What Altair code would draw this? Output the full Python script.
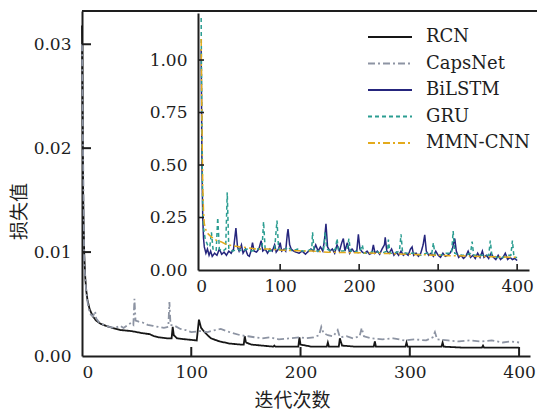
import altair as alt
import pandas as pd

MODELS = ["RCN", "CapsNet", "BiLSTM", "GRU", "MMN-CNN"]
COLORS = ["#161616", "#8d94a3", "#25257d", "#2b9d91", "#e3aa1c"]
DASHES = [[1, 0], [7, 3, 2, 3], [1, 0], [4, 3], [7, 3, 2, 3]]

# ---- main panel: RCN and CapsNet training loss ----
rcn_epoch = [0, 1, 2, 3, 4, 5, 7, 10, 13, 17, 22, 28, 35, 45, 55, 62, 66, 70, 78, 82,
             83, 84, 87, 95, 105, 107, 109, 113, 118, 126, 135, 145, 148, 149, 150, 155,
             165, 175, 176, 177, 190, 198, 199, 200, 210, 224, 225, 226, 235, 236, 238,
             250, 267, 268, 269, 285, 296, 297, 298, 315, 329, 330, 331, 350, 366, 367,
             368, 385, 400]
rcn_loss = [0.0318, 0.016, 0.010, 0.0075, 0.0062, 0.0054, 0.0045, 0.0038, 0.0034, 0.0031,
            0.0029, 0.0027, 0.0025, 0.0024, 0.0022, 0.0021, 0.0019, 0.0018, 0.0017, 0.0017,
            0.0028, 0.0020, 0.0017, 0.0016, 0.0015, 0.0035, 0.0027, 0.0022, 0.0017, 0.0014,
            0.0012, 0.0011, 0.0011, 0.0019, 0.0013, 0.0011, 0.0010, 0.0009, 0.0010, 0.0009,
            0.0009, 0.0009, 0.0018, 0.0011, 0.0009, 0.0009, 0.0013, 0.0009, 0.0009, 0.0017,
            0.0010, 0.0009, 0.0009, 0.0014, 0.0009, 0.0009, 0.0009, 0.0013, 0.0009, 0.0009,
            0.0009, 0.0013, 0.0009, 0.0008, 0.0008, 0.0010, 0.0008, 0.0008, 0.0008]

caps_epoch = [0, 2, 4, 6, 8, 10, 12, 13, 16, 20, 25, 30, 35, 38, 42, 45, 47, 48, 49, 52,
              56, 60, 65, 70, 75, 79, 80, 81, 85, 90, 95, 100, 108, 115, 122, 127, 132,
              138, 145, 152, 158, 165, 172, 180, 190, 200, 205, 212, 217, 219, 221, 225,
              230, 234, 236, 242, 248, 254, 256, 258, 265, 275, 285, 295, 305, 315, 321,
              323, 325, 335, 345, 355, 365, 375, 385, 393, 400]
caps_loss = [0.030, 0.009, 0.006, 0.0046, 0.0040, 0.0038, 0.0043, 0.0036, 0.0032, 0.0030,
             0.0028, 0.0027, 0.0029, 0.0027, 0.0030, 0.0032, 0.0030, 0.0055, 0.0034, 0.0033,
             0.0032, 0.0030, 0.0029, 0.0028, 0.0027, 0.0028, 0.0052, 0.0030, 0.0029, 0.0026,
             0.0025, 0.0023, 0.0024, 0.0023, 0.0025, 0.0026, 0.0024, 0.0022, 0.0020, 0.0019,
             0.0018, 0.0017, 0.0018, 0.0016, 0.0017, 0.0018, 0.0017, 0.0018, 0.0020, 0.0028,
             0.0022, 0.0020, 0.0019, 0.0025, 0.0018, 0.0019, 0.0017, 0.0019, 0.0027, 0.0019,
             0.0017, 0.0016, 0.0017, 0.0015, 0.0016, 0.0015, 0.0018, 0.0023, 0.0016, 0.0015,
             0.0014, 0.0015, 0.0014, 0.0015, 0.0013, 0.0014, 0.0013]

# ---- inset panel: baseline models ----
gru_epoch = [0, 1, 2, 3, 5, 8, 11, 13, 15, 19, 21, 23, 27, 31, 33, 35, 40, 46, 52, 58, 64,
             70, 77, 79, 81, 87, 93, 96, 98, 104, 110, 115, 122, 128, 134, 140, 141, 143,
             150, 155, 157, 159, 165, 170, 172, 174, 180, 185, 187, 189, 195, 200, 204, 206,
             212, 220, 228, 236, 237, 239, 245, 251, 253, 255, 262, 270, 278, 285, 292, 294,
             296, 303, 310, 317, 319, 321, 328, 335, 341, 343, 345, 352, 358, 364, 366, 368,
             375, 382, 388, 392, 394, 396, 400]
gru_loss = [1.20, 0.60, 0.30, 0.20, 0.15, 0.12, 0.11, 0.18, 0.10, 0.09, 0.25, 0.10, 0.09,
            0.10, 0.37, 0.10, 0.09, 0.10, 0.09, 0.10, 0.09, 0.10, 0.10, 0.23, 0.10, 0.09,
            0.10, 0.235, 0.10, 0.09, 0.11, 0.09, 0.10, 0.09, 0.09, 0.10, 0.18, 0.09, 0.09,
            0.10, 0.18, 0.10, 0.09, 0.10, 0.15, 0.09, 0.09, 0.10, 0.15, 0.09, 0.09, 0.08,
            0.12, 0.08, 0.08, 0.09, 0.08, 0.09, 0.145, 0.08, 0.08, 0.09, 0.17, 0.08, 0.08,
            0.08, 0.07, 0.08, 0.08, 0.13, 0.07, 0.07, 0.08, 0.08, 0.185, 0.08, 0.07, 0.07,
            0.08, 0.135, 0.07, 0.07, 0.07, 0.07, 0.14, 0.07, 0.06, 0.06, 0.07, 0.07, 0.14,
            0.06, 0.06]

bilstm_epoch = [0, 1, 2, 3, 4, 6, 8, 10, 12, 14, 17, 20, 23, 26, 29, 32, 35, 38, 41, 44,
                46, 48, 51, 53, 56, 59, 61, 63, 65, 67, 70, 73, 76, 78, 81, 84, 87, 90, 93,
                95, 98, 100, 102, 105, 107, 109, 110, 112, 114, 117, 120, 124, 128, 132, 136,
                139, 142, 145, 148, 151, 154, 156, 158, 160, 163, 166, 169, 172, 175, 178,
                180, 182, 185, 188, 191, 194, 197, 199, 201, 204, 207, 210, 213, 216, 218,
                220, 223, 226, 229, 232, 233, 235, 238, 241, 244, 247, 250, 253, 256, 259,
                262, 265, 267, 269, 272, 275, 278, 281, 283, 285, 288, 291, 294, 297, 300,
                303, 306, 309, 312, 315, 318, 321, 323, 326, 329, 332, 335, 338, 341, 344,
                347, 350, 353, 356, 358, 361, 364, 367, 370, 373, 376, 379, 382, 385, 388,
                391, 394, 397, 400]
bilstm_loss = [1.05, 0.50, 0.25, 0.15, 0.11, 0.08, 0.10, 0.07, 0.09, 0.065, 0.08, 0.07,
               0.10, 0.075, 0.085, 0.07, 0.09, 0.08, 0.10, 0.20, 0.11, 0.09, 0.12, 0.08,
               0.10, 0.07, 0.065, 0.09, 0.13, 0.09, 0.085, 0.10, 0.14, 0.09, 0.10, 0.08,
               0.10, 0.09, 0.12, 0.085, 0.10, 0.13, 0.09, 0.10, 0.09, 0.17, 0.195, 0.12,
               0.10, 0.09, 0.085, 0.08, 0.09, 0.075, 0.09, 0.10, 0.09, 0.12, 0.09, 0.11,
               0.09, 0.14, 0.22, 0.11, 0.09, 0.10, 0.08, 0.12, 0.09, 0.13, 0.15, 0.09,
               0.13, 0.08, 0.10, 0.085, 0.09, 0.17, 0.10, 0.085, 0.08, 0.09, 0.075, 0.08,
               0.12, 0.08, 0.09, 0.075, 0.10, 0.12, 0.155, 0.09, 0.08, 0.10, 0.07, 0.085,
               0.07, 0.09, 0.07, 0.08, 0.07, 0.10, 0.11, 0.07, 0.08, 0.065, 0.08, 0.12,
               0.167, 0.09, 0.07, 0.08, 0.065, 0.09, 0.07, 0.06, 0.08, 0.065, 0.07, 0.08,
               0.10, 0.15, 0.09, 0.06, 0.07, 0.055, 0.065, 0.09, 0.06, 0.07, 0.055, 0.08,
               0.06, 0.09, 0.06, 0.07, 0.055, 0.08, 0.06, 0.05, 0.07, 0.05, 0.06, 0.08,
               0.05, 0.06, 0.05, 0.055, 0.045]

mmn_epoch = [0, 1, 2, 3, 4, 6, 8, 12, 16, 20, 25, 30, 40, 50, 60, 70, 85, 100, 120, 140,
             160, 180, 200, 220, 240, 260, 280, 300, 320, 340, 360, 380, 400]
mmn_loss = [1.10, 0.70, 0.40, 0.28, 0.22, 0.19, 0.175, 0.16, 0.15, 0.14, 0.135, 0.125,
            0.115, 0.11, 0.105, 0.10, 0.10, 0.095, 0.092, 0.09, 0.085, 0.083, 0.082, 0.08,
            0.078, 0.075, 0.073, 0.07, 0.068, 0.066, 0.064, 0.062, 0.06]

MAIN_X_TICKS = [0, 100, 200, 300, 400]
MAIN_Y_TICKS = [0.0, 0.01, 0.02, 0.03]
INSET_X_TICKS = [0, 100, 200, 300, 400]
INSET_Y_TICKS = [0.0, 0.25, 0.5, 0.75, 1.0]


def frame(model, epochs, losses):
    return pd.DataFrame({"epoch": epochs, "loss": losses, "model": model})


main_df = pd.concat([frame("RCN", rcn_epoch, rcn_loss),
                     frame("CapsNet", caps_epoch, caps_loss)])
inset_df = pd.concat([frame("BiLSTM", bilstm_epoch, bilstm_loss),
                      frame("GRU", gru_epoch, gru_loss),
                      frame("MMN-CNN", mmn_epoch, mmn_loss)])
key_df = pd.DataFrame({"model": MODELS})

W, H = 448, 345
SERIF = "DejaVu Serif"
CJK = "Noto Sans CJK SC"
INK = "#1e1e1e"
FS = 17

color = alt.Color("model:N", scale=alt.Scale(domain=MODELS, range=COLORS), legend=None)
dash = alt.StrokeDash("model:N", scale=alt.Scale(domain=MODELS, range=DASHES), legend=None)

axis_style = dict(ticks=False, tickSize=0, grid=False, domainColor=INK, domainWidth=2,
                  labelFont=SERIF, labelFontSize=FS, labelColor=INK)

# main scales / axes
mx_scale = alt.Scale(domain=[0, 410], nice=False, zero=False)
my_scale = alt.Scale(domain=[0, 0.0332], nice=False)
mx_axis = alt.Axis(values=MAIN_X_TICKS, title="迭代次数", labelPadding=8,
                   titleFont=CJK, titleFontSize=19, titleFontWeight="normal",
                   titleColor=INK, titleX=210, titlePadding=11, **axis_style)
my_axis = alt.Axis(values=MAIN_Y_TICKS, format=".2f", title="损失值", labelPadding=11,
                   titleFont=CJK, titleFontSize=19, titleFontWeight="normal",
                   titleColor=INK, titleX=-63, titleY=200, titleBaseline="middle",
                   **axis_style)
mX = alt.X("epoch:Q", scale=mx_scale, axis=mx_axis)
mY = alt.Y("loss:Q", scale=my_scale, axis=my_axis)

main_lines = alt.Chart(main_df).mark_line(strokeWidth=1.8).encode(
    x=mX, y=mY, color=color, strokeDash=dash)
main_xticks = alt.Chart(pd.DataFrame({"epoch": MAIN_X_TICKS[1:]})).mark_rule(
    color=INK, strokeWidth=2).encode(x=mX, y=alt.value(H), y2=alt.value(H - 9))
main_yticks = alt.Chart(pd.DataFrame({"loss": MAIN_Y_TICKS[1:]})).mark_rule(
    color=INK, strokeWidth=2).encode(y=mY, x=alt.value(0), x2=alt.value(9))
top_frame = alt.Chart(pd.DataFrame({"k": [0]})).mark_rule(
    color=INK, strokeWidth=2).encode(x=alt.value(0), x2=alt.value(470), y=alt.value(0))
main = alt.layer(main_lines, main_xticks, main_yticks, top_frame)

# inset scales / axes, placed inside the main plot area
ix_scale = alt.Scale(domain=[-4, 415], range=[116, 447], nice=False, zero=False)
iy_scale = alt.Scale(domain=[0, 1.224], range=[259, 2], nice=False)
ix_axis = alt.Axis(values=INSET_X_TICKS, title=None, orient="bottom", offset=-86,
                   labelPadding=8, **axis_style)
iy_axis = alt.Axis(values=INSET_Y_TICKS, format=".2f", title=None, orient="left",
                   offset=-116, labelPadding=11, **axis_style)
iX = alt.X("epoch:Q", scale=ix_scale, axis=ix_axis)
iY = alt.Y("loss:Q", scale=iy_scale, axis=iy_axis)

inset_lines = alt.Chart(inset_df).mark_line(strokeWidth=1.5).encode(
    x=iX, y=iY, color=color, strokeDash=dash)
inset_xticks = alt.Chart(pd.DataFrame({"epoch": INSET_X_TICKS[1:]})).mark_rule(
    color=INK, strokeWidth=1.6).encode(x=iX, y=alt.value(259), y2=alt.value(253))
inset_yticks = alt.Chart(pd.DataFrame({"loss": INSET_Y_TICKS[1:]})).mark_rule(
    color=INK, strokeWidth=1.6).encode(y=iY, x=alt.value(116), x2=alt.value(122))
inset = alt.layer(inset_lines, inset_xticks, inset_yticks)

# key: one row per model, stacked with a point scale
kY = alt.Y("model:N", scale=alt.Scale(type="point", domain=MODELS, range=[26, 132],
                                      padding=0), axis=None)
key_lines = alt.Chart(key_df).mark_rule(strokeWidth=1.8).encode(
    x=alt.value(286), x2=alt.value(330), y=kY, color=color, strokeDash=dash)
key_text = alt.Chart(key_df).mark_text(
    align="left", baseline="middle", font=SERIF, fontSize=FS + 1, color=INK
).encode(x=alt.value(344), y=kY, text="model:N")
key = alt.layer(key_lines, key_text)

chart = alt.layer(main, inset, key).resolve_scale(
    x="independent", y="independent", color="shared", strokeDash="shared"
).resolve_axis(x="independent", y="independent").properties(
    width=W, height=H, autosize="none",
    padding={"left": 82, "top": 11, "right": 7, "bottom": 56},
    background="white",
).configure_view(stroke=None)

chart.save("out.html", embed_options={"renderer": "svg", "actions": False})
